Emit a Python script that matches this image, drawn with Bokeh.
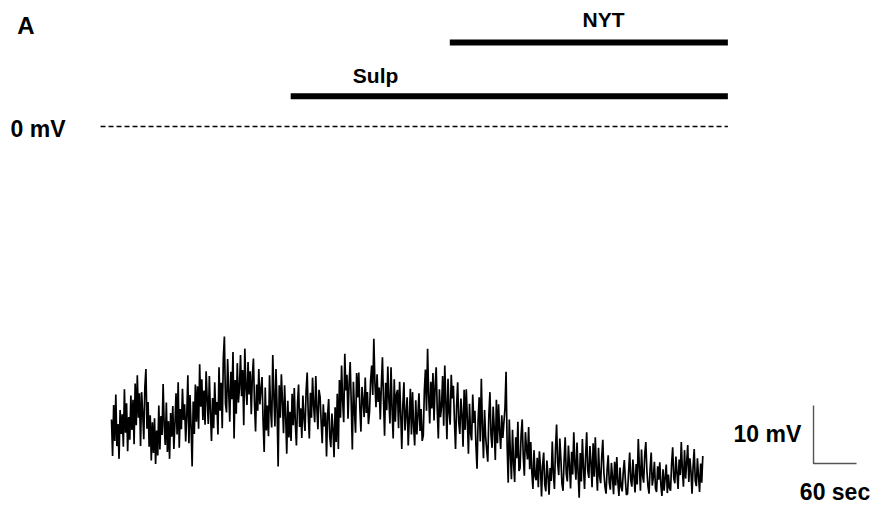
import numpy as np
from bokeh.plotting import figure
from bokeh.models import Range1d
from bokeh.core.properties import value
from bokeh.embed import file_html
from bokeh.resources import INLINE

# ---------------- data ----------------
sample_interval_s = 1.5
trace_mv = [
    -50.5, -56.8, -48.0, -54.2, -46.2, -55.1, -51.3, -57.3, -48.9, -53.0,
    -49.6, -55.2, -45.3, -52.8, -47.7, -56.0, -50.1, -54.0, -46.4, -52.3,
    -47.1, -54.8, -44.3, -51.5, -42.9, -50.2, -46.0, -55.1, -45.8, -49.4,
    -53.9, -45.0, -41.8, -52.1, -47.5, -55.2, -49.8, -57.6, -51.0, -56.3,
    -50.3, -58.2, -52.4, -56.7, -48.1, -55.7, -49.9, -53.2, -44.4, -51.6,
    -54.9, -47.6, -56.1, -50.8, -57.3, -49.4, -53.5, -48.2, -55.6, -51.2,
    -46.0, -53.1, -44.1, -55.4, -48.7, -52.2, -45.2, -50.6, -47.9, -54.3,
    -49.8, -42.9, -54.6, -46.3, -51.7, -58.6, -47.4, -53.0, -44.5, -50.9,
    -44.8, -52.1, -41.0, -48.3, -43.6, -50.6, -45.5, -51.4, -42.2, -47.0,
    -51.3, -43.0, -49.1, -54.2, -46.8, -52.0, -44.1, -49.7, -47.5, -53.1,
    -41.5, -49.0, -44.2, -52.0, -39.9, -36.2, -47.8, -49.3, -40.1, -45.6,
    -50.9, -42.3, -47.0, -38.9, -53.8, -43.7, -49.5, -40.8, -47.6, -45.1,
    -39.4, -46.5, -42.0, -51.5, -38.3, -44.9, -48.0, -40.6, -46.2, -42.2,
    -49.6, -43.1, -40.0, -47.7, -52.6, -44.5, -49.0, -41.8, -47.9, -45.3,
    -43.2, -50.8, -56.1, -45.0, -52.4, -48.1, -53.4, -42.9, -48.8, -51.9,
    -39.4, -46.3, -51.7, -41.8, -48.5, -58.6, -44.6, -50.2, -42.7, -47.4,
    -52.9, -44.6, -50.0, -56.4, -47.3, -53.6, -49.2, -54.2, -46.1, -51.5,
    -45.1, -51.3, -55.0, -47.8, -44.5, -51.8, -48.6, -53.7, -46.4, -50.2,
    -52.5, -45.7, -42.4, -49.6, -53.8, -45.9, -50.2, -43.3, -48.1, -51.0,
    -43.0, -48.6, -52.2, -45.4, -46.6, -50.9, -54.6, -47.9, -51.7, -49.3,
    -56.9, -49.8, -47.0, -53.5, -55.3, -49.5, -52.1, -57.0, -48.4, -54.4,
    -46.1, -55.6, -43.7, -50.2, -41.2, -47.3, -51.0, -39.2, -45.5, -42.8,
    -50.4, -44.4, -40.6, -47.8, -55.7, -44.0, -49.1, -52.8, -42.5, -46.7,
    -42.4, -48.5, -52.6, -44.9, -47.2, -50.1, -43.3, -49.4, -45.8, -51.3,
    -49.2, -43.8, -41.2, -46.3, -36.6, -44.1, -48.4, -42.7, -47.5, -45.0,
    -50.5, -44.6, -39.8, -47.1, -53.3, -44.2, -48.9, -41.4, -47.0, -51.2,
    -41.5, -48.8, -53.8, -43.6, -50.9, -46.2, -45.4, -52.0, -44.0, -49.3,
    -55.6, -48.0, -44.1, -52.4, -49.5, -46.7, -55.0, -50.3, -45.2, -53.1,
    -45.8, -51.6, -55.0, -47.2, -53.1, -49.8, -46.0, -52.5, -48.7, -54.2,
    -53.3, -45.6, -41.9, -49.0, -38.3, -46.4, -51.2, -44.0, -48.6, -42.5,
    -50.7, -44.8, -41.5, -48.9, -53.8, -45.3, -50.1, -48.2, -43.0, -51.6,
    -41.2, -47.6, -53.9, -43.5, -49.2, -51.4, -42.8, -46.9, -44.7, -50.8,
    -55.6, -48.2, -44.1, -51.0, -53.0, -46.9, -49.7, -55.2, -45.4, -52.3,
    -45.3, -50.5, -56.4, -47.8, -52.9, -54.1, -46.2, -51.1, -49.0, -55.0,
    -59.0, -50.6, -46.7, -54.3, -43.5, -51.8, -57.2, -48.9, -53.5, -55.8,
    -57.8, -49.7, -45.8, -53.2, -55.4, -48.3, -52.0, -57.5, -47.1, -54.6,
    -47.9, -52.4, -55.6, -49.8, -53.7, -51.0, -48.6, -42.3, -54.9, -61.4,
    -50.5, -56.3, -60.8, -52.3, -58.0, -61.3, -53.6, -57.2, -50.9, -59.4,
    -58.9, -53.2, -50.5, -56.8, -60.2, -52.7, -55.5, -57.4, -51.8, -59.1,
    -54.4, -59.6, -62.5, -55.8, -60.3, -61.0, -57.1, -62.2, -56.0, -58.7,
    -63.8, -58.4, -56.2, -61.7, -62.9, -57.6, -60.2, -63.5, -58.9, -61.1,
    -54.3, -59.8, -62.5, -55.6, -51.4, -58.0, -60.1, -53.8, -57.3, -61.6,
    -62.8, -57.5, -53.6, -59.9, -61.2, -55.0, -58.4, -62.4, -56.1, -60.0,
    -52.7, -58.2, -60.9, -54.5, -59.6, -64.0, -56.3, -61.2, -53.9, -58.8,
    -62.5, -56.8, -52.7, -59.3, -60.6, -55.1, -58.0, -62.2, -54.6, -60.4,
    -53.6, -59.0, -62.8, -55.4, -60.3, -61.5, -56.9, -54.0, -59.7, -62.1,
    -63.3, -59.2, -56.7, -61.4, -62.6, -58.0, -60.5, -63.4, -57.8, -61.9,
    -57.0, -61.3, -63.7, -58.8, -62.1, -62.9, -59.6, -57.5, -61.0, -63.5,
    -63.3, -59.5, -56.2, -61.0, -62.1, -57.4, -60.4, -63.1, -58.2, -61.7,
    -53.9, -58.7, -62.8, -55.7, -60.2, -61.4, -56.5, -54.4, -59.3, -62.0,
    -63.3, -59.0, -56.2, -61.9, -60.4, -57.8, -62.4, -63.0, -58.6, -60.9,
    -57.9, -61.8, -63.7, -59.1, -62.8, -60.5, -58.3, -63.2, -60.0, -62.3,
    -62.8, -58.1, -55.3, -60.6, -61.5, -56.9, -59.7, -62.5, -57.4, -60.1,
    -54.4, -59.2, -62.1, -55.8, -60.7, -58.0, -54.9, -61.3, -57.2, -59.5,
    -63.3, -58.6, -55.6, -61.1, -62.0, -57.2, -60.3, -63.0, -58.1, -61.4,
    -56.8,
]
drug_names = ["Sulp", "NYT"]
drug_start_s = [250.0, 472.0]
drug_end_s = [860.0, 860.0]
scale_time_s = 60
scale_volt_mv = 10

t = np.arange(len(trace_mv)) * sample_interval_s

# ---------------- figure ----------------
p = figure(width=870, height=521, output_backend="svg", toolbar_location=None,
           x_range=Range1d(-154.9, 1059.0), y_range=Range1d(-68.1, 21.72),
           min_border=0, x_axis_type=None, y_axis_type=None)
p.outline_line_color = None
p.xgrid.visible = False
p.ygrid.visible = False
p.background_fill_color = "white"

FONT = value("Liberation Sans")

# trace
p.line(t, trace_mv, line_color="black", line_width=1.7)

# 0 mV dashed reference
p.line([-15.3, drug_end_s[0]], [0, 0], line_color="black", line_width=1.3, line_dash="5 3")
p.text(x=[-140.9], y=[-0.5], text=["0 mV"], text_font=FONT, text_font_style="bold",
       text_font_size="23px", text_baseline="middle", text_align="left", text_color="black")

# drug bars
bar_levels = [5.2, 14.5]
for name, s, e, lv in zip(drug_names, drug_start_s, drug_end_s, bar_levels):
    p.line([s, e], [lv, lv], line_color="black", line_width=6)
label_pos = {"Sulp": (368.4, 8.8), "NYT": (686.5, 18.4)}
for name in drug_names:
    lx, ly = label_pos[name]
    p.text(x=[lx], y=[ly], text=[name], text_font=FONT, text_font_style="bold",
           text_font_size="21px", text_baseline="middle", text_align="center", text_color="black")

# panel letter
p.text(x=[-131.5], y=[17.4], text=["A"], text_font=FONT, text_font_style="bold",
       text_font_size="24px", text_baseline="middle", text_align="left", text_color="black")

# scale bar
sx0, sy0 = 979.5, -58.1
p.line([sx0, sx0, sx0 + scale_time_s], [sy0 + scale_volt_mv, sy0, sy0],
       line_color="#555555", line_width=1.4)
p.text(x=[sx0 - 17], y=[sy0 + scale_volt_mv / 2 + 0.1], text=[f"{scale_volt_mv} mV"], text_font=FONT,
       text_font_style="bold", text_font_size="23px", text_baseline="middle",
       text_align="right", text_color="black")
p.text(x=[sx0 + 30], y=[sy0 - 5.0], text=[f"{scale_time_s} sec"], text_font=FONT,
       text_font_style="bold", text_font_size="23px", text_baseline="middle",
       text_align="center", text_color="black")

open("out.html", "w").write(file_html(p, INLINE))
